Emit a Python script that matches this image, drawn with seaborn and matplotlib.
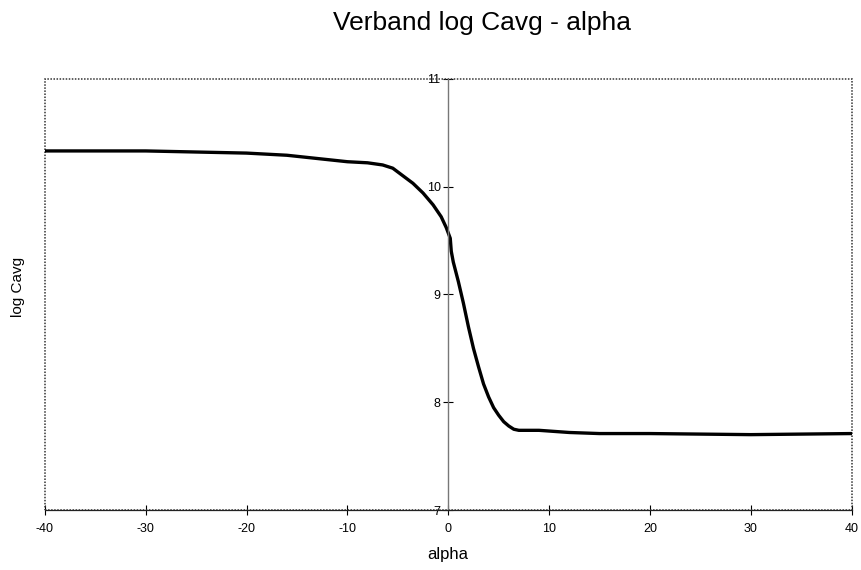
import numpy as np
import matplotlib
matplotlib.use("Agg")
import matplotlib.pyplot as plt
from matplotlib.patches import Rectangle
import pandas as pd
import seaborn as sns

sns.set_style("white")
plt.rcParams['font.family'] = ['Liberation Sans', 'DejaVu Sans']
plt.rcParams['axes.unicode_minus'] = False

# curve
alpha = [-40, -35, -30, -25, -20, -16, -12, -10, -8, -6.5, -5.5, -4.5, -3.5,
         -2.5, -1.5, -0.7, -0.2, 0.0, 0.2, 0.3, 0.5, 1.0, 1.5, 2.0, 2.5, 3.0,
         3.5, 4.0, 4.5, 5.0, 5.5, 6.0, 6.5, 7.0, 9.0, 12.0, 15.0, 20.0, 30.0, 40.0]
log_cavg = [10.33, 10.33, 10.33, 10.32, 10.31, 10.29, 10.25, 10.23, 10.22, 10.20,
            10.17, 10.10, 10.03, 9.94, 9.83, 9.72, 9.62, 9.57, 9.52, 9.40, 9.30,
            9.12, 8.92, 8.70, 8.50, 8.33, 8.17, 8.05, 7.95, 7.88, 7.82, 7.78,
            7.75, 7.74, 7.74, 7.72, 7.71, 7.71, 7.70, 7.71]
x_ticks = [-40, -30, -20, -10, 0, 10, 20, 30, 40]
y_ticks = [7, 8, 9, 10, 11]

df = pd.DataFrame({"alpha": alpha, "log Cavg": log_cavg})

fig = plt.figure(figsize=(8.62, 5.70), dpi=100)
ax = fig.add_axes([0.052, 0.105, 0.936, 0.757])

sns.lineplot(data=df, x="alpha", y="log Cavg", ax=ax, color="black",
             linewidth=2.4, sort=False)

ax.set_xlim(-40, 40)
ax.set_ylim(7, 11)
ax.set_xticks(x_ticks)
ax.set_yticks(y_ticks)

# y axis runs through alpha = 0, frame is dotted
ax.spines['left'].set_position(('data', 0))
ax.spines['left'].set_color('#777777')
ax.spines['left'].set_linewidth(1.0)
for s in ['top', 'right']:
    ax.spines[s].set_visible(False)
ax.spines['bottom'].set_color('#222222')
ax.spines['bottom'].set_linewidth(0.9)
ax.add_patch(Rectangle((0, 0), 1, 1, transform=ax.transAxes, fill=False,
                       linestyle=(0, (1, 1)), linewidth=1.1, edgecolor='#333333',
                       clip_on=False))

ax.tick_params(axis='both', direction='inout', length=7, width=0.8,
               labelsize=9, colors='black', bottom=True, left=True)
ax.tick_params(axis='x', pad=6)
ax.tick_params(axis='y', pad=2)

ax.set_xlabel("")
ax.set_ylabel("")
fig.text(0.52, 0.027, "alpha", ha='center', va='center', fontsize=12,
         color='black')
fig.text(0.021, 0.497, "log Cavg", ha='center', va='center', fontsize=11,
         rotation=90, color='black')
fig.text(0.559, 0.96, "Verband log Cavg - alpha", ha='center', va='center',
         fontsize=19, color='black')

fig.savefig("out.png", dpi=100)
